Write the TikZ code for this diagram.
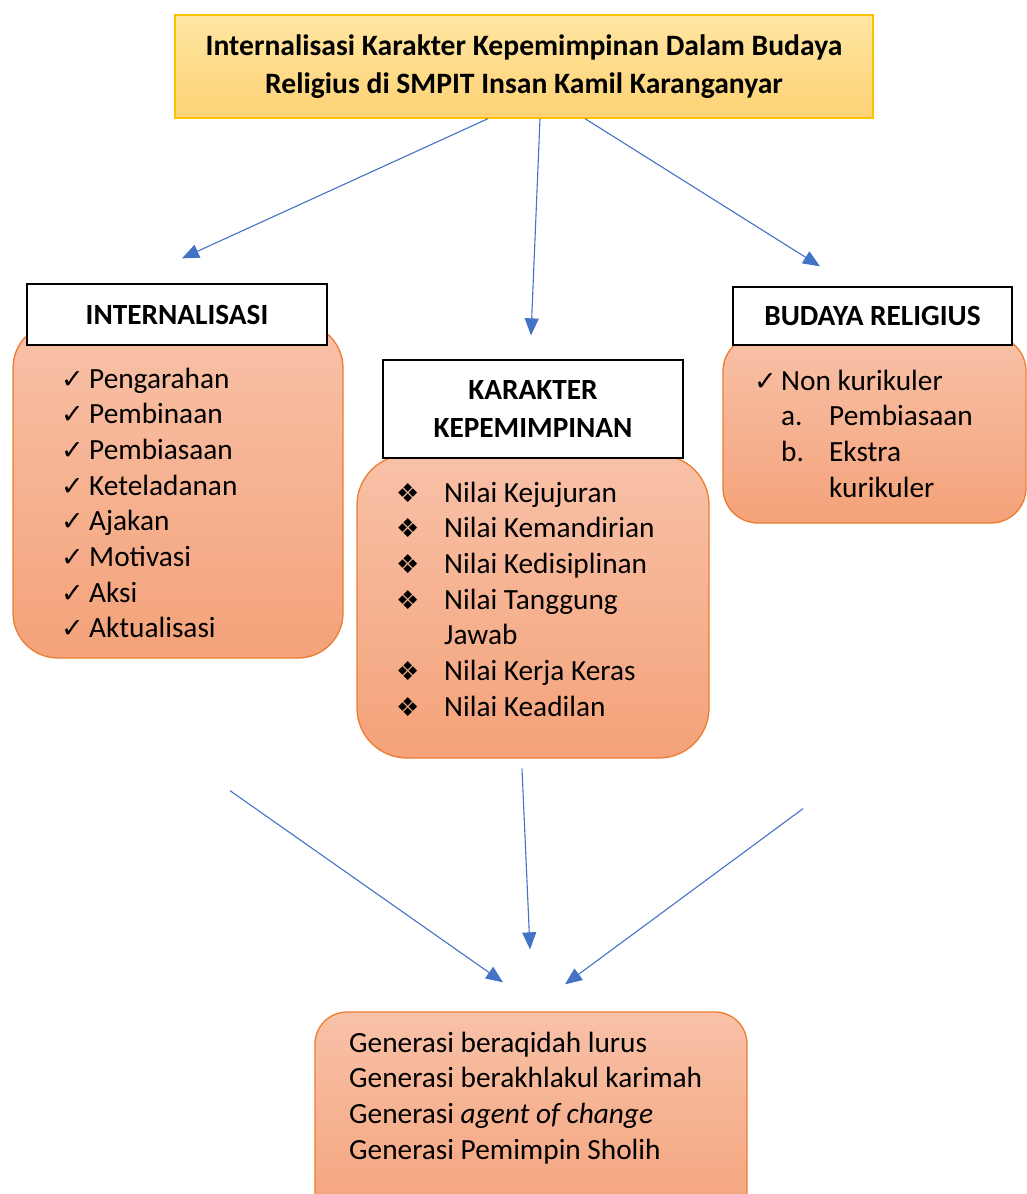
\documentclass[tikz,border=0pt]{standalone}
\usepackage{fontspec}
\setmainfont{Carlito}
\newfontfamily\symf{DejaVu Sans}
\usepackage{tikz}
\usetikzlibrary{arrows.meta}
\definecolor{arrblue}{HTML}{4472C4}
\definecolor{orline}{HTML}{ED7D31}
\definecolor{ortop}{HTML}{F8C1A8}
\definecolor{orbot}{HTML}{F4A279}
\definecolor{goldtop}{HTML}{FFE6A2}
\definecolor{goldbot}{HTML}{FDD274}
\definecolor{goldline}{HTML}{FFC000}
\newcommand{\ck}{{\symf\fontsize{27}{27}\selectfont ✓}}
\newcommand{\dm}{{\symf\fontsize{26}{26}\selectfont ❖}}

\begin{document}
\begin{tikzpicture}[x=1pt,y=-1pt,font=\fontsize{29.3}{35.7}\selectfont,ob/.style={draw=orline,line width=1.3pt,rounded corners=45pt,top color=ortop,bottom color=orbot},hd/.style={draw=black,line width=1.3pt,fill=white,font=\fontsize{29.3}{38}\selectfont\bfseries,align=center},lst/.style={anchor=base west,inner sep=0pt},a/.style={-{Triangle[length=17pt,width=14pt]},line width=1.1pt,arrblue}]
\useasboundingbox (0,0) rectangle (1027,1194);
\clip (0,0) rectangle (1027,1194);
\node[draw=goldline,line width=1.3pt,top color=goldtop,bottom color=goldbot,minimum width=698,minimum height=103,font=\fontsize{29.6}{38}\selectfont\bfseries,align=center] (judul) at (524,66.5) {Internalisasi Karakter Kepemimpinan Dalam Budaya\\Religius di SMPIT Insan Kamil Karanganyar};
\node[ob,minimum width=330,minimum height=335] (intbox) at (178,490.5) {};
\node[ob,minimum width=352,minimum height=303,rounded corners=50pt] (karbox) at (533,606.5) {};
\node[ob,minimum width=303,minimum height=187,rounded corners=35pt] (budbox) at (874.5,429.5) {};
\node[ob,minimum width=432,minimum height=218,rounded corners=32pt] (genbox) at (531,1121) {};
\node[hd,minimum width=300,minimum height=61] (inthdr) at (177,314.5) {INTERNALISASI};
\node[hd,minimum width=300,minimum height=98] (karhdr) at (533,409) {KARAKTER\\KEPEMIMPINAN};
\node[hd,minimum width=279,minimum height=58] (budhdr) at (872.5,316) {BUDAYA RELIGIUS};
\node[lst] (intlist) at (61,388) {\begin{tabular}[t]{@{}p{28pt}@{}l@{}}\ck&Pengarahan\\\ck&Pembinaan\\\ck&Pembiasaan\\\ck&Keteladanan\\\ck&Ajakan\\\ck&Motivasi\\\ck&Aksi\\\ck&Aktualisasi\end{tabular}};
\node[lst] (karlist) at (396,502) {\begin{tabular}[t]{@{}p{48pt}@{}l@{}}\dm&Nilai Kejujuran\\\dm&Nilai Kemandirian\\\dm&Nilai Kedisiplinan\\\dm&Nilai Tanggung\\&Jawab\\\dm&Nilai Kerja Keras\\\dm&Nilai Keadilan\end{tabular}};
\node[lst] (budlist) at (754,390) {\begin{tabular}[t]{@{}p{27pt}@{}p{48pt}@{}l@{}}\ck&\multicolumn{2}{@{}l@{}}{Non kurikuler}\\&a.&Pembiasaan\\&b.&Ekstra\\&&kurikuler\end{tabular}};
\node[lst] (genlist) at (349,1052) {\begin{tabular}[t]{@{}l@{}}Generasi beraqidah lurus\\Generasi berakhlakul karimah\\Generasi \textit{agent of change}\\Generasi Pemimpin Sholih\end{tabular}};
\draw[a] ([xshift=-36pt]judul.south) -- ([xshift=5pt,yshift=25pt]inthdr.north);
\draw[a] ([xshift=16pt]judul.south) -- ([xshift=-2pt,yshift=24pt]karhdr.north);
\draw[a] ([xshift=61pt]judul.south) -- ([xshift=-52.5pt,yshift=20pt]budhdr.north);
\draw[a] ([xshift=52pt,yshift=-132pt]intbox.south) -- ([xshift=-28pt,yshift=29pt]genbox.north);
\draw[a] ([xshift=-11pt,yshift=-10pt]karbox.south) -- ([xshift=-1pt,yshift=62pt]genbox.north);
\draw[a] ([xshift=-71.5pt,yshift=-285pt]budbox.south) -- ([xshift=34pt,yshift=27pt]genbox.north);
\end{tikzpicture}
\end{document}
